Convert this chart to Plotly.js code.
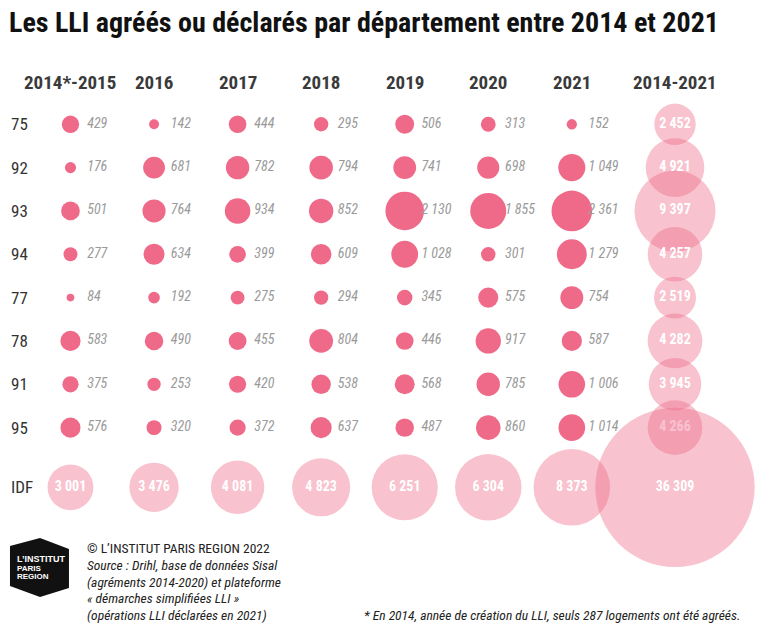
<!DOCTYPE html>
<html><head><meta charset="utf-8">
<script src="https://cdn.plot.ly/plotly-3.0.1.min.js"></script>
<style>html,body{margin:0;padding:0;background:#fff}#chart{width:768px;height:629px}</style>
</head><body><div id="chart"></div>
<script>
// ---- data ----
const periods = ['2014*-2015','2016','2017','2018','2019','2020','2021'];
const totalLabel = '2014-2021';
const depts = ['75','92','93','94','77','78','91','95'];
const v75 = [429,142,444,295,506,313,152];
const v92 = [176,681,782,794,741,698,1049];
const v93 = [501,764,934,852,2130,1855,2361];
const v94 = [277,634,399,609,1028,301,1279];
const v77 = [84,192,275,294,345,575,754];
const v78 = [583,490,455,804,446,917,587];
const v91 = [375,253,420,538,568,785,1006];
const v95 = [576,320,372,637,487,860,1014];
const totalsDept = [2452,4921,9397,4257,2519,4282,3945,4266];
const idfLabel = 'IDF';
const idfByPeriod = [3001,3476,4081,4823,6251,6304,8373];
const idfTotal = [36309];

// ---- style ----
const W = 768, H = 629;
const FONT = '"Liberation Sans Narrow","Arial Narrow","Roboto Condensed","Liberation Sans",Arial,sans-serif';
const DARK = '#ef6a88';
const LIGHT = 'rgba(238,106,135,0.41)';
const SIZEREF = 2.86;
function fmt(v){ return String(v).replace(/\B(?=(\d{3})+(?!\d))/g,'\u00a0'); }
const px = x => x / W, py = y => 1 - y / H;

const deptRows = [v75,v92,v93,v94,v77,v78,v91,v95];
const dx=[], dy=[], ds=[], dtx=[], dt=[];
deptRows.forEach((row,r)=>row.forEach((v,c)=>{ dx.push(c); dy.push(r); ds.push(v); dtx.push(c+0.2); dt.push(fmt(v)); }));
const rowIdx = depts.map((d,i)=>i);
const colIdx = periods.map((p,i)=>i);

const mk = (size, color) => ({size:size, sizemode:'area', sizeref:SIZEREF, line:{width:0}, opacity:1, color:color});

const traces = [
  // light: IDF per period
  {type:'scatter', mode:'markers+text', x:colIdx, y:idfByPeriod.map(()=>0), xaxis:'x', yaxis:'y2',
   marker:mk(idfByPeriod, LIGHT), text:idfByPeriod.map(fmt), textposition:'middle center',
   textfont:{family:FONT, size:14, color:'#ffffff', weight:700}, cliponaxis:false, hoverinfo:'skip'},
  // light: totals per dept
  {type:'scatter', mode:'markers+text', x:totalsDept.map(()=>0), y:rowIdx, xaxis:'x2', yaxis:'y',
   marker:mk(totalsDept, LIGHT), text:totalsDept.map(fmt), textposition:'middle center',
   textfont:{family:FONT, size:14, color:'#ffffff', weight:700}, cliponaxis:false, hoverinfo:'skip'},
  // light: IDF total
  {type:'scatter', mode:'markers+text', x:[0], y:[0], xaxis:'x2', yaxis:'y2',
   marker:mk(idfTotal, LIGHT), text:idfTotal.map(fmt), textposition:'middle center',
   textfont:{family:FONT, size:14, color:'#ffffff', weight:700}, cliponaxis:false, hoverinfo:'skip'},
  // dark: dept x period
  {type:'scatter', mode:'markers', x:dx, y:dy, xaxis:'x', yaxis:'y',
   marker:mk(ds, DARK), cliponaxis:false, hoverinfo:'skip'},
  // grey value labels
  {type:'scatter', mode:'text', x:dtx, y:dy, xaxis:'x', yaxis:'y', text:dt, textposition:'middle right',
   textfont:{family:FONT, size:14, color:'#9a9a9a', style:'italic'}, cliponaxis:false, hoverinfo:'skip'}
];

const ax = {showgrid:false, zeroline:false, showticklabels:false, showline:false, ticks:'', fixedrange:true};
const annotations = [];
periods.forEach((p,i)=>annotations.push({xref:'x', x:i, yref:'paper', y:py(82), text:p, showarrow:false,
  xanchor:'center', yanchor:'middle', font:{family:FONT, size:19, color:'#3a3a3a', weight:700}}));
annotations.push({xref:'x2', x:0, yref:'paper', y:py(82), text:totalLabel, showarrow:false,
  xanchor:'center', yanchor:'middle', font:{family:FONT, size:19, color:'#3a3a3a', weight:700}});
depts.forEach((d,i)=>annotations.push({xref:'paper', x:px(9), yref:'y', y:i, text:d, showarrow:false,
  xanchor:'left', yanchor:'middle', font:{family:FONT, size:17, color:'#333'}}));
annotations.push({xref:'paper', x:px(9), yref:'y2', y:0, text:idfLabel, showarrow:false,
  xanchor:'left', yanchor:'middle', font:{family:FONT, size:17, color:'#333'}});
// footer
const footLines = [
  {t:'© L\u2019INSTITUT PARIS REGION 2022', y:548, it:false},
  {t:'Source : Drihl, base de données Sisal', y:565, it:true},
  {t:'(agréments 2014-2020) et plateforme', y:582, it:true},
  {t:'« démarches simplifiées LLI »', y:598, it:true},
  {t:'(opérations LLI déclarées en 2021)', y:615, it:true}
];
footLines.forEach(l=>annotations.push({xref:'paper', yref:'paper', x:px(85), y:py(l.y), text:l.t, showarrow:false,
  xanchor:'left', yanchor:'middle', font:{family:FONT, size:13.5, color:'#222', style:l.it?'italic':'normal'}}));
annotations.push({xref:'paper', yref:'paper', x:px(742), y:py(615), text:'* En 2014, année de création du LLI, seuls 287 logements ont été agréés.',
  showarrow:false, xanchor:'right', yanchor:'middle', font:{family:FONT, size:13.5, color:'#222', style:'italic'}});
// logo text
[['L\u2019INSTITUT',559,9],['PARIS',568.5,8],['REGION',576.5,8]].forEach(a=>annotations.push({xref:'paper', yref:'paper',
  x:px(15), y:py(a[1]), text:a[0], showarrow:false, xanchor:'left', yanchor:'middle',
  font:{family:'"Liberation Sans",Arial,sans-serif', size:a[2], color:'#fff', weight:700}}));

const logoPts = [[10,546],[40,538],[69,549],[69,588],[40,597],[10,586]];
const logoPath = 'M' + logoPts.map(p=>px(p[0]).toFixed(4)+','+py(p[1]).toFixed(4)).join(' L') + ' Z';

const layout = {
  width:W, height:H, margin:{l:0,r:0,t:0,b:0}, paper_bgcolor:'#fff', plot_bgcolor:'rgba(0,0,0,0)',
  showlegend:false,
  title:{text:'Les LLI agréés ou déclarés par département entre 2014 et 2021', x:px(9), xanchor:'left', xref:'paper',
         y:py(22), yanchor:'middle', yref:'paper', font:{family:FONT, size:28, color:'#111', weight:700}},
  xaxis:Object.assign({}, ax, {domain:[px(28.7), px(613.6)], range:[-0.5,6.5]}),
  xaxis2:Object.assign({}, ax, {domain:[px(625), px(725)], range:[-0.5,0.5], anchor:'y'}),
  yaxis:Object.assign({}, ax, {domain:[py(449.3), py(102.6)], range:[7.5,-0.5]}),
  yaxis2:Object.assign({}, ax, {domain:[py(507.3), py(467.3)], range:[-0.5,0.5], anchor:'x'}),
  shapes:[{type:'path', xref:'paper', yref:'paper', path:logoPath, fillcolor:'#111', line:{width:0}}],
  annotations:annotations
};
Plotly.newPlot('chart', traces, layout, {staticPlot:true, displayModeBar:false});
</script></body></html>
